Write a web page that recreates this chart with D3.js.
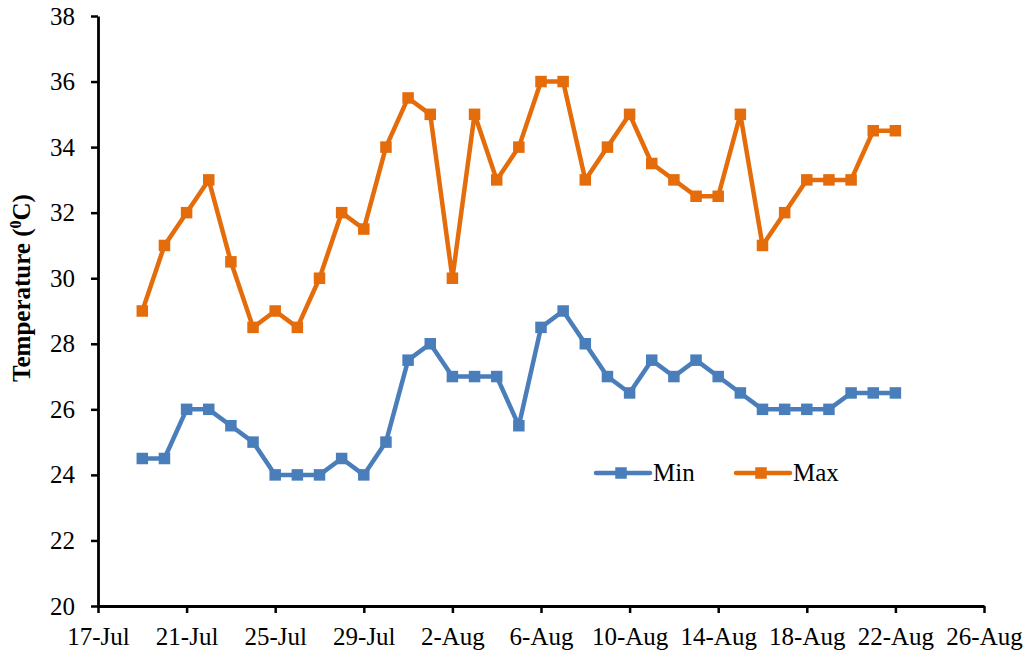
<!DOCTYPE html>
<html>
<head>
<meta charset="utf-8">
<script src="https://cdn.jsdelivr.net/npm/d3@7"></script>
<style>
  html, body { margin: 0; padding: 0; background: #fff; }
  svg { display: block; }
  svg text { font-family: "Liberation Serif", "Times New Roman", serif; fill: #000; }
</style>
</head>
<body>
<svg id="chart" width="1029" height="657"></svg>
<script>
const startDate = "2020-07-19";
const minTemps = [24.5,24.5,26,26,25.5,25,24,24,24,24.5,24,25,27.5,
  28,27,27,27,25.5,28.5,29,28,27,26.5,27.5,27,27.5,27,26.5,26,26,26,26,26.5,26.5,26.5];
const maxTemps = [29,31,32,33,30.5,28.5,29,28.5,30,32,31.5,34,35.5,
  35,30,35,33,34,36,36,33,34,35,33.5,33,32.5,32.5,35,31,32,33,33,33,34.5,34.5];
const seriesNames = ["Min", "Max"];
const yTicks = [20,22,24,26,28,30,32,34,36,38];
const xTickDates = ["2020-07-17","2020-07-21","2020-07-25","2020-07-29","2020-08-02","2020-08-06",
  "2020-08-10","2020-08-14","2020-08-18","2020-08-22","2020-08-26"];

const parse = d3.timeParse("%Y-%m-%d");
const day0 = parse(startDate);
const dates = minTemps.map((_, i) => d3.timeDay.offset(day0, i));

const svg = d3.select("#chart");
const margin = {left: 98, right: 45, top: 16, bottom: 51};
const W = 1029, H = 657;
const FS = 25;

const x = d3.scaleTime()
  .domain([parse(xTickDates[0]), parse(xTickDates[xTickDates.length - 1])])
  .range([margin.left, W - margin.right]);
const y = d3.scaleLinear().domain([20, 38]).range([H - margin.bottom, margin.top]);

// X axis
const xAxis = svg.append("g")
  .attr("transform", `translate(0,${H - margin.bottom})`)
  .call(d3.axisBottom(x).tickValues(xTickDates.map(parse)).tickFormat(d3.timeFormat("%-d-%b")).tickSize(7).tickSizeOuter(0).tickPadding(0));
xAxis.select(".domain").attr("stroke", "#000").attr("stroke-width", 2.8);
xAxis.selectAll(".tick line").attr("stroke", "#000").attr("stroke-width", 2.5);
xAxis.selectAll(".tick text").style("font-size", FS + "px").attr("y", 0).attr("dy", 39);

// Y axis
const yAxis = svg.append("g")
  .attr("transform", `translate(${margin.left},0)`)
  .call(d3.axisLeft(y).tickValues(yTicks).tickSize(7).tickSizeOuter(0).tickPadding(16));
yAxis.select(".domain").attr("stroke", "#000").attr("stroke-width", 2.8);
yAxis.selectAll(".tick line").attr("stroke", "#000").attr("stroke-width", 2.5);
yAxis.selectAll(".tick text").style("font-size", FS + "px");

// Y label
const yl = svg.append("text")
  .attr("transform", `translate(30,288) rotate(-90)`)
  .attr("text-anchor", "middle")
  .style("font-size", "25px").style("font-weight", "bold");
yl.append("tspan").text("Temperature (");
yl.append("tspan").text("0").style("font-size", "16px").attr("dy", -9);
yl.append("tspan").text("C)").attr("dy", 9);

const colors = ["#4A7EBB", "#E46C0A"];
const data = [minTemps, maxTemps];
const line = d3.line().x((d, i) => x(dates[i])).y(d => y(d));
const ms = 11.5;

data.forEach((vals, si) => {
  svg.append("path").datum(vals)
    .attr("d", line).attr("fill", "none")
    .attr("stroke", colors[si]).attr("stroke-width", 4.5).attr("stroke-linejoin", "round");
  svg.append("g").selectAll("rect").data(vals).join("rect")
    .attr("x", (d, i) => x(dates[i]) - ms / 2)
    .attr("y", d => y(d) - ms / 2)
    .attr("width", ms).attr("height", ms)
    .attr("fill", colors[si]);
});

// Legend
const legendX = [596, 736];
seriesNames.forEach((name, si) => {
  const g = svg.append("g").attr("transform", `translate(${legendX[si]},473)`);
  g.append("line").attr("x1", 0).attr("x2", 54).attr("y1", 0).attr("y2", 0)
    .attr("stroke", colors[si]).attr("stroke-width", 4.5).attr("stroke-linecap", "round");
  g.append("rect").attr("x", 25 - ms / 2).attr("y", -ms / 2).attr("width", ms).attr("height", ms).attr("fill", colors[si]);
  g.append("text").attr("x", 57).attr("y", 8).text(name).style("font-size", FS + "px");
});
</script>
</body>
</html>
